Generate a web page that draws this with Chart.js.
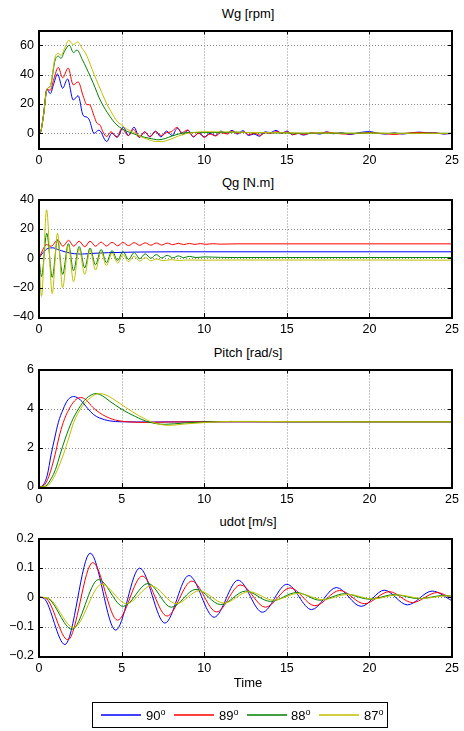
<!DOCTYPE html>
<html>
<head>
<meta charset="utf-8">
<title>Wg / Qg / Pitch / udot</title>
<script src="https://cdn.jsdelivr.net/npm/chart.js@4.4.1/dist/chart.umd.min.js"></script>
<style>
    body { margin: 0; background: #fff; font-family: "Liberation Sans", Arial, sans-serif; }
    #page { position: relative; width: 464px; height: 731px; overflow: hidden; }
    #page canvas { position: absolute; left: 0; }
    .ttl { position: absolute; left: 39px; width: 418px; text-align: center; font-size: 13px; line-height: 16px; color: #000; }
    #legend { position: absolute; left: 92px; top: 702px; width: 296px; height: 26px; border: 1px solid #000; box-sizing: border-box; background: #fff; }
    #legendKeys { position: absolute; left: 0; top: 0; }
    .lab { position: absolute; top: 5px; font-size: 13px; line-height: 16px; color: #000; }
    .lab sup { font-size: 9px; vertical-align: 5px; line-height: 0; }
</style>
</head>
<body>
<div id="page">
    <div class="ttl" style="top:6px">Wg [rpm]</div>
    <canvas id="wgChart" width="464" height="152" style="top:18px"></canvas>
    <div class="ttl" style="top:175px">Qg [N.m]</div>
    <canvas id="qgChart" width="464" height="152" style="top:187px"></canvas>
    <div class="ttl" style="top:345px">Pitch [rad/s]</div>
    <canvas id="pitchChart" width="464" height="152" style="top:357px"></canvas>
    <div class="ttl" style="top:514px">udot [m/s]</div>
    <canvas id="udotChart" width="464" height="152" style="top:526px"></canvas>
    <div class="ttl" style="top:675px">Time</div>
    <div id="legend"><canvas id="legendKeys" width="294" height="24"></canvas></div>
</div>

<script>
// ---- data (time [s], value) ----
const angles = ['90', '89', '88', '87'];

const timeTicks = [0, 5, 10, 15, 20, 25];
const wgTicks = [0, 20, 40, 60];
const wgRange = [-10, 70];
const qgTicks = [-40, -20, 0, 20, 40];
const pitchTicks = [0, 2, 4, 6];
const udotTicks = [-0.2, -0.1, 0, 0.1, 0.2];

// Wg [rpm]
const wg90 = [[0,0],[0.1,1],[0.28,13],[0.48,30],[0.68,27],[0.9,34],[1.12,40.4],[1.43,30.7],[1.73,37],[2.07,22.7],[2.37,25.6],[2.67,12.2],[2.9,11],[3.05,9],[3.33,0],[3.63,2.2],[4.1,-5.6],[4.4,0],[4.75,-2.5],[5.1,4.2],[5.42,-1.5],[5.75,4.2],[6.08,-2.8],[6.4,1],[6.72,-2.5],[7.05,1.5],[7.38,-2.5],[7.72,1.5],[8.05,-1.5],[8.38,3.5],[8.7,-1],[9.02,2.2],[9.35,-2.5],[9.68,0.5],[10,-2.5],[10.35,0],[10.68,-1.5],[11,1.5],[11.35,0],[11.68,2],[12,-0.5],[12.35,1.8],[12.68,-1.5],[13,-0.5],[13.35,-2],[13.68,1],[14,0.5],[14.35,2],[14.68,0],[15,1.5],[15.35,-1],[15.68,0],[16,-1.2],[16.5,0.3],[17,-0.5],[17.4,1],[17.8,-0.3],[18.3,0.5],[18.8,-0.8],[19.4,0.5],[20,1.2],[20.5,0],[21,-0.5],[21.5,0.3],[22,-0.5],[22.5,0.2],[23,0.8],[23.5,0.4],[24,0.3],[24.5,-0.5],[25,0]];
const wg89 = [[0,0],[0.1,1],[0.28,13],[0.48,30],[0.68,29.3],[0.9,37],[1.17,44.9],[1.43,37.8],[1.77,44.4],[2.07,33],[2.37,35],[2.67,25.5],[2.9,19.5],[3.05,19.5],[3.32,12.2],[3.5,7],[3.7,5.5],[3.87,1],[4.1,-2.2],[4.36,1.1],[4.7,-2.7],[5.02,3.3],[5.4,-1.6],[5.72,2.7],[6.06,-2.7],[6.39,1.1],[6.7,-2.2],[7.05,1.1],[7.4,-1.5],[7.72,0.5],[8,1],[8.35,4],[8.65,0.5],[8.98,2.2],[9.34,-2.2],[9.67,0],[10,-2.7],[10.35,-0.5],[10.7,-1.8],[11,0.5],[11.4,-0.5],[11.7,1.5],[12,0],[12.4,1],[12.7,-1],[13,0],[13.4,-1.3],[13.7,0.5],[14,0],[14.4,1.2],[14.7,0.2],[15,1],[15.4,-0.8],[15.7,0],[16,-0.8],[16.5,0.2],[17,0],[17.4,0.8],[18,0],[18.5,-0.5],[19,-0.3],[19.5,0],[20,0.6],[20.5,0],[21,-0.3],[21.5,-0.8],[22,-0.2],[22.5,0.3],[23,0.6],[23.5,0.3],[24,0.2],[24.5,-0.3],[25,0]];
const wg88 = [[0,0],[0.1,1],[0.28,13],[0.48,30],[0.68,32],[0.98,50],[1.18,52.5],[1.33,51],[1.55,56],[1.84,60],[2.08,55],[2.3,56.7],[2.63,50],[2.85,45],[3.13,38],[3.4,31],[3.63,24.4],[3.9,18.5],[4.12,14.4],[4.45,9],[4.72,5.6],[5,3.3],[5.3,1.5],[5.66,0],[6.15,-2],[6.65,-3.3],[7.25,-4.4],[7.65,-3.5],[8.05,-1.8],[8.45,-0.5],[8.85,0.4],[9.5,0.6],[10,0.5],[11,0.5],[12,0.8],[13,0.3],[14,0.3],[15,0.2],[16,0],[17,0.2],[18,0],[19,0],[20,0.2],[21,0],[22,0],[23,0],[24,0],[25,0]];
const wg87 = [[0,0],[0.1,1],[0.28,13],[0.48,30],[0.68,32],[0.98,52],[1.18,54.4],[1.34,53],[1.55,58],[1.8,63.3],[2.08,60.4],[2.34,62.2],[2.6,58],[2.84,54],[3.1,47],[3.34,40],[3.6,33],[3.84,26.7],[4.1,20],[4.44,13.3],[4.7,8.5],[5,5.6],[5.3,3],[5.66,1.1],[6.25,-2.7],[6.7,-4.5],[7.05,-5.6],[7.45,-5.6],[7.85,-4.5],[8.25,-2.7],[8.65,-1],[9.05,0],[10,1.1],[11,1],[12,0.8],[13,0.5],[14,0.5],[15,0.3],[16,0.2],[17,0.2],[18,0.2],[19,0.1],[20,0.2],[21,0],[22,0],[23,0],[24,0],[25,0]];

// Qg [N.m]
const qg90 = [[0,0],[0.24,3.8],[0.54,6.7],[0.84,7.1],[1.13,6],[1.63,4.2],[2.13,3.1],[2.63,2.9],[3.2,3.3],[4.2,3.8],[5.8,4.2],[8,4.4],[10,4.4],[15,4.4],[20,4.4],[25,4.4]];
const qg89 = [[0,0],[0.24,6],[0.44,9.3],[0.74,8.2],[1.13,12.5],[1.45,8.2],[1.79,12.2],[2.1,8.2],[2.43,11.6],[2.77,7.8],[3.09,11.6],[3.42,8.2],[3.76,11],[4.08,8.3],[4.42,10.8],[4.76,8.5],[5.08,10.7],[5.42,8.6],[5.76,10.6],[6.1,8.8],[6.43,10.5],[6.77,8.9],[7.1,10.4],[7.43,9],[7.76,10.3],[8.1,9.2],[8.43,10.2],[8.76,9.3],[9.1,10.1],[9.43,9.4],[9.76,10],[10.1,9.5],[10.5,9.9],[11,9.6],[12,9.8],[15,9.8],[20,9.8],[25,9.8]];
const qg88 = [[0,0],[0.15,-12.5],[0.47,17],[0.8,-13],[1.12,12.5],[1.43,-11],[1.78,10],[2.09,-8.5],[2.43,8],[2.77,-6.5],[3.09,7],[3.42,-4.5],[3.76,6],[4.08,-3],[4.42,5.2],[4.76,-1.5],[5.08,4.6],[5.42,-0.8],[5.76,3.8],[6.1,-0.3],[6.43,3],[6.77,0],[7.1,2.5],[7.43,0.2],[7.76,2],[8.1,0.3],[8.43,1.6],[8.76,0.4],[9.1,1.3],[9.5,0.5],[10,0.9],[11,0.6],[12,0.5],[15,0.5],[20,0.5],[25,0.5]];
const qg87 = [[0,0],[0.15,-26],[0.46,33],[0.8,-24],[1.12,17],[1.43,-20],[1.78,9],[2.09,-16],[2.43,6.5],[2.77,-11],[3.09,5.5],[3.42,-8],[3.76,4.5],[4.08,-5],[4.42,3.5],[4.76,-3.2],[5.08,2.5],[5.42,-2.3],[5.76,1.5],[6.1,-2],[6.43,0.5],[6.77,-1.8],[7.1,-0.5],[7.5,-1.6],[8,-1],[8.5,-1.5],[9,-1.2],[10,-1.3],[12,-1.2],[15,-1.2],[20,-1.2],[25,-1.3]];

// Pitch [rad/s]
const pitch90 = [[0,0],[0.25,0.1],[0.5,0.6],[0.73,1.64],[0.95,2.5],[1.17,3.3],[1.45,3.95],[1.75,4.45],[2.1,4.62],[2.5,4.45],[2.96,4],[3.3,3.7],[3.65,3.53],[4.25,3.38],[5,3.33],[7,3.32],[10,3.33],[15,3.33],[20,3.33],[25,3.33]];
const pitch89 = [[0,0],[0.3,0.08],[0.6,0.55],[0.97,1.64],[1.2,2.5],[1.47,3.3],[1.8,3.95],[2.15,4.4],[2.52,4.57],[2.85,4.45],[3.25,4.07],[3.65,3.8],[4.05,3.6],[4.45,3.46],[4.84,3.38],[5.5,3.32],[6.5,3.3],[8,3.32],[10,3.33],[15,3.33],[20,3.33],[25,3.33]];
const pitch88 = [[0,0],[0.4,0.05],[0.75,0.45],[1,0.9],[1.27,1.64],[1.6,2.5],[1.96,3.3],[2.4,4],[2.86,4.52],[3.45,4.77],[3.85,4.65],[4.25,4.4],[5.04,3.95],[5.83,3.6],[6.63,3.32],[7.62,3.2],[8.8,3.27],[10,3.32],[12,3.34],[15,3.33],[20,3.33],[25,3.33]];
const pitch87 = [[0,0],[0.45,0.03],[0.8,0.35],[1.1,0.85],[1.47,1.64],[1.8,2.5],[2.1,3.3],[2.6,4.1],[3.1,4.55],[3.65,4.77],[4.05,4.7],[4.44,4.52],[5.24,4.07],[6.03,3.65],[6.83,3.32],[7.82,3.15],[9,3.23],[10.2,3.3],[11.6,3.35],[13,3.35],[15,3.34],[20,3.33],[25,3.33]];

// udot [m/s]
const udot90 = [[0,0],[0.3,-0.004],[1.57,-0.161],[3.1,0.15],[4.64,-0.112],[6.09,0.099],[7.62,-0.088],[9.07,0.074],[10.6,-0.068],[12.05,0.058],[13.52,-0.051],[15,0.044],[16.5,-0.042],[18,0.033],[19.5,-0.031],[20.9,0.024],[22.3,-0.026],[23.8,0.021],[25,-0.012]];
const udot89 = [[0,0],[0.4,-0.003],[1.75,-0.145],[3.25,0.118],[4.75,-0.078],[6.25,0.072],[7.75,-0.064],[9.25,0.055],[10.75,-0.05],[12.2,0.042],[13.7,-0.034],[15.2,0.032],[16.7,-0.029],[18.2,0.023],[19.7,-0.022],[21.2,0.019],[22.6,-0.018],[24.1,0.016],[25,-0.004]];
const udot88 = [[0,0],[0.5,-0.003],[2,-0.109],[3.6,0.06],[5.1,-0.031],[6.6,0.047],[8,-0.034],[9.5,0.027],[11,-0.025],[12.5,0.021],[14,-0.014],[15.6,0.016],[17,-0.01],[18.5,0.012],[20,-0.007],[21.5,0.009],[23,-0.005],[24.5,0.006],[25,0.004]];
const udot87 = [[0,0],[0.55,-0.003],[2.1,-0.103],[3.8,0.044],[5.3,-0.022],[6.8,0.039],[8.3,-0.022],[9.7,0.022],[11.2,-0.02],[12.7,0.019],[14.2,-0.01],[15.7,0.013],[17.2,-0.008],[18.7,0.01],[20.2,-0.006],[21.7,0.008],[23.2,-0.004],[24.7,0.005],[25,0.004]];

// ---- styles ----
const lineColors = ['#0000ff', '#ff0000', '#008000', '#bfbf00'];
const fontFamily = '"Liberation Sans", Arial, sans-serif';

Chart.defaults.font.family = fontFamily;
Chart.defaults.color = '#000';

/**
 * Dotted grid under the lines, black box and inward ticks on top
 */
const framePlugin = {
    id: 'frame',
    beforeDatasetsDraw(chart) {
        const { ctx, chartArea: a, scales } = chart;
        ctx.save();
        ctx.strokeStyle = '#8c8c8c';
        ctx.lineWidth = 1;
        ctx.setLineDash([1, 2]);
        ctx.beginPath();
        scales.x.ticks.forEach(t => {
            const px = Math.round(scales.x.getPixelForValue(t.value)) + 0.5;
            ctx.moveTo(px, a.top);
            ctx.lineTo(px, a.bottom);
        });
        scales.y.ticks.forEach(t => {
            const py = Math.round(scales.y.getPixelForValue(t.value)) + 0.5;
            ctx.moveTo(a.left, py);
            ctx.lineTo(a.right, py);
        });
        ctx.stroke();
        ctx.restore();
    },
    afterDatasetsDraw(chart) {
        const { ctx, chartArea: a, scales } = chart;
        const tl = 4;
        ctx.save();
        ctx.strokeStyle = '#000';
        ctx.lineWidth = 1;
        ctx.beginPath();
        scales.x.ticks.forEach(t => {
            const px = Math.round(scales.x.getPixelForValue(t.value)) + 0.5;
            ctx.moveTo(px, a.bottom);
            ctx.lineTo(px, a.bottom - tl);
            ctx.moveTo(px, a.top);
            ctx.lineTo(px, a.top + tl);
        });
        scales.y.ticks.forEach(t => {
            const py = Math.round(scales.y.getPixelForValue(t.value)) + 0.5;
            ctx.moveTo(a.left, py);
            ctx.lineTo(a.left + tl, py);
            ctx.moveTo(a.right, py);
            ctx.lineTo(a.right - tl, py);
        });
        ctx.stroke();
        ctx.lineWidth = 2;
        ctx.strokeRect(Math.round(a.left), Math.round(a.top),
            Math.round(a.right - a.left), Math.round(a.bottom - a.top));
        ctx.restore();
    }
};

function tickText(value) {
    return String(value).replace('-', '\u2212');
}

/**
 * Build one panel: four angle series against time
 */
function createPanel(canvasId, seriesList, yTicks, yRange) {
    const ctx = document.getElementById(canvasId);
    if (!ctx) return;

    return new Chart(ctx, {
        type: 'line',
        data: {
            datasets: seriesList.map((series, i) => ({
                label: angles[i],
                data: series.map(p => ({ x: p[0], y: p[1] })),
                borderColor: lineColors[i],
                borderWidth: 1,
                pointRadius: 0,
                fill: false,
                cubicInterpolationMode: 'monotone',
                order: seriesList.length - 1 - i
            }))
        },
        options: {
            responsive: false,
            animation: false,
            events: [],
            layout: { padding: { top: 10, right: 7, bottom: 0, left: 0 } },
            plugins: {
                legend: { display: false },
                tooltip: { enabled: false },
                title: { display: false }
            },
            scales: {
                x: {
                    type: 'linear',
                    min: timeTicks[0],
                    max: timeTicks[timeTicks.length - 1],
                    afterBuildTicks: scale => { scale.ticks = timeTicks.map(v => ({ value: v })); },
                    afterFit: scale => { scale.height = 22; },
                    grid: { display: false, drawTicks: false },
                    border: { display: false },
                    ticks: {
                        padding: 5,
                        maxRotation: 0,
                        autoSkip: false,
                        color: '#000',
                        font: { size: 12.5 },
                        callback: tickText
                    }
                },
                y: {
                    type: 'linear',
                    min: yRange ? yRange[0] : yTicks[0],
                    max: yRange ? yRange[1] : yTicks[yTicks.length - 1],
                    afterBuildTicks: scale => { scale.ticks = yTicks.map(v => ({ value: v })); },
                    afterFit: scale => { scale.width = 39; },
                    grid: { display: false, drawTicks: false },
                    border: { display: false },
                    ticks: {
                        padding: 5,
                        autoSkip: false,
                        color: '#000',
                        font: { size: 12.5 },
                        callback: tickText
                    }
                }
            }
        },
        plugins: [framePlugin]
    });
}

/**
 * Legend box under the last panel: short coloured strokes + labels
 */
function buildLegend() {
    const box = document.getElementById('legend');
    const keys = document.getElementById('legendKeys').getContext('2d');
    const keyLeft = [8, 81, 154, 226];
    const labLeft = [53, 126, 198, 271];
    keys.lineWidth = 1.3;
    angles.forEach((a, i) => {
        keys.strokeStyle = lineColors[i];
        keys.beginPath();
        keys.moveTo(keyLeft[i], 12);
        keys.lineTo(keyLeft[i] + 40, 12);
        keys.stroke();
        const lab = document.createElement('div');
        lab.className = 'lab';
        lab.style.left = labLeft[i] + 'px';
        lab.innerHTML = a + '<sup>o</sup>';
        box.appendChild(lab);
    });
}

createPanel('wgChart', [wg90, wg89, wg88, wg87], wgTicks, wgRange);
createPanel('qgChart', [qg90, qg89, qg88, qg87], qgTicks);
createPanel('pitchChart', [pitch90, pitch89, pitch88, pitch87], pitchTicks);
createPanel('udotChart', [udot90, udot89, udot88, udot87], udotTicks);
buildLegend();
</script>
</body>
</html>
